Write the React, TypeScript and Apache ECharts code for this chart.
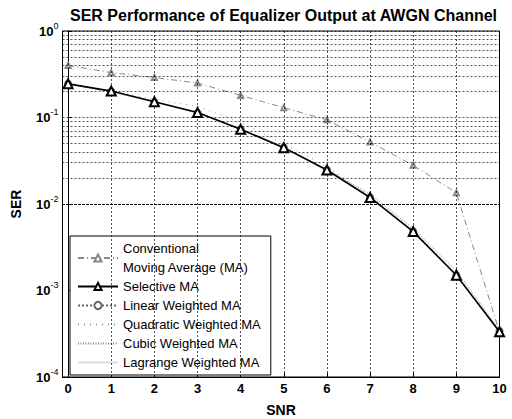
import React, { useEffect, useRef } from "react";
import * as echarts from "echarts";

const snr = [0, 1, 2, 3, 4, 5, 6, 7, 8, 9, 10];
const xTickValues = [0, 1, 2, 3, 4, 5, 6, 7, 8, 9, 10];
const yDecades = [1e-4, 1e-3, 1e-2, 1e-1, 1];
const yMinorFactors = [2, 3, 4, 5, 6, 7, 8, 9];

const conventional = [0.4, 0.33, 0.29, 0.25, 0.18, 0.13, 0.094, 0.052, 0.028, 0.0135, 0.00033];
const selective = [0.245, 0.202, 0.152, 0.114, 0.073, 0.0448, 0.0247, 0.0119, 0.0048, 0.0015, 0.000334];
const linearW = [0.245, 0.2, 0.15, 0.113, 0.073, 0.045, 0.0248, 0.0119, 0.0048, 0.0015, 0.00034];
const quadraticW = [0.25, 0.205, 0.16, 0.135, 0.088, 0.05, 0.027, 0.0125, 0.005, 0.0016, 0.00034];
const cubicW = [0.245, 0.2, 0.152, 0.115, 0.074, 0.046, 0.025, 0.013, 0.0052, 0.0017, 0.00035];
const lagrangeW = [0.245, 0.2, 0.15, 0.113, 0.072, 0.044, 0.024, 0.0118, 0.0047, 0.0015, 0.00033];

const FONT = "'Liberation Sans', Arial, Helvetica, sans-serif";

export default function App() {
  const ref = useRef<HTMLDivElement>(null);
  useEffect(() => {
    if (!ref.current) return;
    const chart = echarts.init(ref.current, null, { renderer: "svg" });
    const pts = (arr: number[]) => snr.map((x, i) => [x, arr[i]]);
    const yGrid: number[] = [];
    yDecades.forEach((d) => {
      yGrid.push(d);
      if (d < 1) yMinorFactors.forEach((f) => yGrid.push(d * f));
    });
    const gridLines = [
      ...xTickValues.map((v) => ({ xAxis: v })),
      ...yGrid.map((v) => ({ yAxis: v })),
    ];
    const noSym = { opacity: 0 };
    chart.setOption({
      animation: false,
      backgroundColor: "#fff",
      textStyle: { fontFamily: FONT },
      title: {
        text: "SER Performance of Equalizer Output at AWGN Channel",
        left: 65,
        top: 2,
        textStyle: { fontFamily: FONT, fontSize: 16, fontWeight: "bold", color: "#000" },
      },
      grid: {
        left: 62.5,
        right: 12.5,
        top: 31,
        bottom: 42,
        show: true,
        borderColor: "#000",
        borderWidth: 1,
        backgroundColor: "#fff",
        outerBoundsMode: "none",
      },
      legend: {
        orient: "vertical",
        left: 70,
        top: 236,
        itemWidth: 40,
        itemHeight: 9,
        itemGap: 0,
        padding: [3, 10, 3, 7],
        backgroundColor: "#fff",
        borderColor: "#000",
        borderWidth: 1,
        data: [
          { name: "Conventional Moving Average (MA)" },
          { name: "Selective MA" },
          { name: "Linear Weighted MA" },
          { name: "Quadratic Weighted MA", itemStyle: noSym },
          { name: "Cubic Weighted MA", itemStyle: noSym },
          { name: "Lagrange Weighted MA", itemStyle: noSym },
        ],
        formatter: (name: string) =>
          name === "Conventional Moving Average (MA)" ? "Conventional\nMoving Average (MA)" : name,
        textStyle: { fontFamily: FONT, fontSize: 13, color: "#000", lineHeight: 19 },
      },
      xAxis: {
        type: "value",
        min: -0.13,
        max: 10,
        name: "SNR",
        nameLocation: "middle",
        nameGap: 26,
        nameTextStyle: { fontFamily: FONT, fontSize: 14, fontWeight: "bold", color: "#000" },
        axisLine: { show: true, onZero: false, lineStyle: { color: "#000", width: 1 } },
        axisTick: { show: true, inside: true, length: 4, customValues: xTickValues, lineStyle: { color: "#000" } },
        axisLabel: {
          customValues: xTickValues,
          margin: 5,
          fontFamily: FONT,
          fontSize: 13,
          fontWeight: "bold",
          color: "#000",
        },
        splitLine: { show: false },
      },
      yAxis: {
        type: "log",
        logBase: 10,
        min: 1e-4,
        max: 1,
        name: "SER",
        nameLocation: "middle",
        nameGap: 40,
        nameTextStyle: { fontFamily: FONT, fontSize: 14, fontWeight: "bold", color: "#000" },
        axisLine: { show: true, lineStyle: { color: "#000", width: 1 } },
        axisTick: { show: true, inside: true, length: 4, lineStyle: { color: "#000" } },
        axisLabel: {
          margin: 4,
          color: "#000",
          formatter: (v: number) => `{b|10}{s|${Math.round(Math.log10(v))}}`,
          rich: {
            b: { fontFamily: FONT, fontSize: 13, fontWeight: "bold", color: "#000" },
            s: { fontFamily: FONT, fontSize: 9, color: "#000", padding: [0, 0, 11, 0] },
          },
        },
        splitLine: { show: false },
      },
      series: [
        {
          name: "gridlines",
          type: "line",
          data: [],
          silent: true,
          z: 1,
          markLine: {
            silent: true,
            symbol: "none",
            label: { show: false },
            lineStyle: { color: "#000", type: [2, 2], width: 0.8, opacity: 0.85 },
            data: gridLines,
          },
        },
        {
          name: "Conventional Moving Average (MA)",
          type: "line",
          data: pts(conventional),
          symbol: "emptyTriangle",
          symbolSize: 5,
          z: 3,
          lineStyle: { color: "#888", width: 1, type: [6, 3, 1, 3] },
          itemStyle: { color: "#888", borderColor: "#888" },
        },
        {
          name: "Selective MA",
          type: "line",
          data: pts(selective),
          symbol: "emptyTriangle",
          symbolSize: 9,
          z: 5,
          lineStyle: { color: "#000", width: 1.6 },
          itemStyle: { color: "#000", borderColor: "#000", borderWidth: 1.3 },
        },
        {
          name: "Linear Weighted MA",
          type: "line",
          data: pts(linearW),
          symbol: "emptyCircle",
          symbolSize: 6,
          z: 4,
          lineStyle: { color: "#666", width: 1, type: [2, 2] },
          itemStyle: { color: "#666", borderColor: "#666" },
        },
        {
          name: "Quadratic Weighted MA",
          type: "line",
          data: pts(quadraticW),
          symbol: "none",
          z: 4,
          lineStyle: { color: "#999", width: 1, type: [1, 5] },
          itemStyle: { color: "#999" },
        },
        {
          name: "Cubic Weighted MA",
          type: "line",
          data: pts(cubicW),
          symbol: "none",
          z: 4,
          lineStyle: { color: "#888", width: 1, type: [1, 1.5] },
          itemStyle: { color: "#888" },
        },
        {
          name: "Lagrange Weighted MA",
          type: "line",
          data: pts(lagrangeW),
          symbol: "none",
          z: 4,
          lineStyle: { color: "#ddd", width: 1 },
          itemStyle: { color: "#ddd" },
        },
      ],
    });
    return () => chart.dispose();
  }, []);
  return (
    <div
      ref={ref}
      style={{ position: "fixed", left: 0, top: 0, width: 512, height: 419, background: "#fff" }}
    />
  );
}
